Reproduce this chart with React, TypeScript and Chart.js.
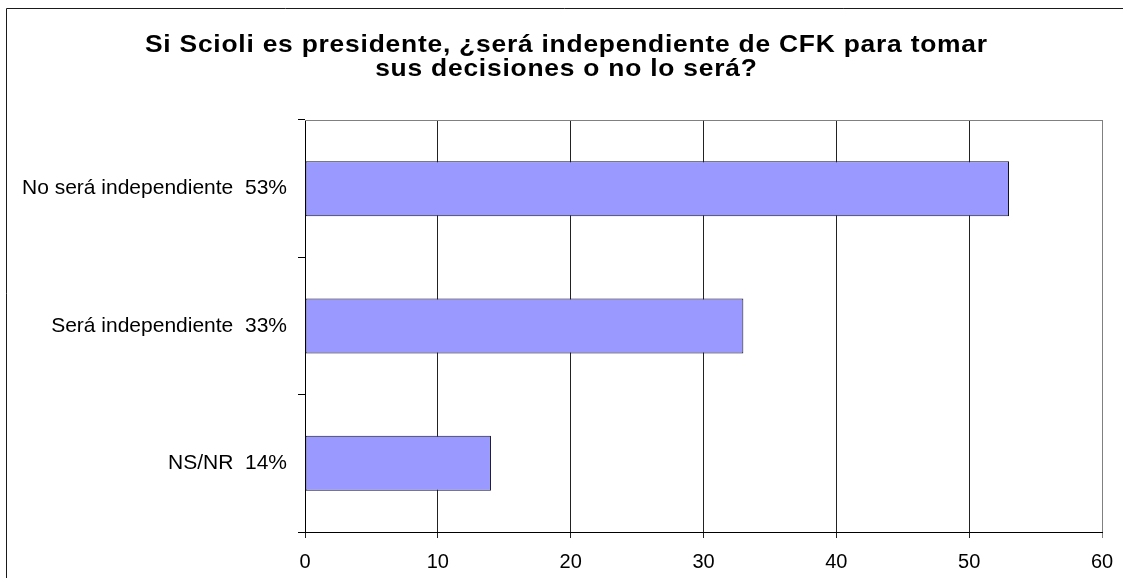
import React, { useEffect, useRef } from "react";
import { Chart, registerables } from "chart.js";

Chart.register(...registerables);

const categories = ["No será independiente  53%", "Será independiente  33%", "NS/NR  14%"];
const values = [53, 33, 14];
const titleLines = [
  "Si Scioli es presidente, ¿será independiente de CFK para tomar",
  "sus decisiones o no lo será?",
];
const xMin = 0;
const xMax = 60;
const xStep = 10;

const FONT = "'Liberation Sans', Arial, sans-serif";

const framePlugin = {
  id: "frameAndTitle",
  beforeDraw(chart: any) {
    const ctx = chart.ctx;
    ctx.save();
    ctx.strokeStyle = "#1a1a1a";
    ctx.lineWidth = 1;
    ctx.beginPath();
    ctx.moveTo(6.5, chart.height);
    ctx.lineTo(6.5, 8.5);
    ctx.lineTo(chart.width, 8.5);
    ctx.stroke();
    ctx.fillStyle = "#000";
    ctx.font = `bold 24px ${FONT}`;
    ctx.textAlign = "center";
    ctx.textBaseline = "alphabetic";
    const sx = 1.1;
    const w0 = ctx.measureText(titleLines[0]).width * sx;
    const spacing = Math.max(0, (843 - w0) / titleLines[0].length / sx);
    ctx.translate(566, 0);
    ctx.scale(sx, 1);
    (ctx as any).letterSpacing = `${spacing.toFixed(2)}px`;
    ctx.fillText(titleLines[0], spacing / 2, 52);
    ctx.fillText(titleLines[1], spacing / 2, 76);
    (ctx as any).letterSpacing = "0px";
    ctx.restore();
  },
  afterDatasetsDraw(chart: any) {
    const { ctx, chartArea } = chart;
    ctx.save();
    ctx.strokeStyle = "#808080";
    ctx.lineWidth = 1;
    ctx.beginPath();
    ctx.moveTo(chartArea.left, chartArea.top + 0.5);
    ctx.lineTo(chartArea.right + 0.5, chartArea.top + 0.5);
    ctx.lineTo(chartArea.right + 0.5, chartArea.bottom);
    ctx.stroke();
    ctx.restore();
  },
};

export default function App() {
  const ref = useRef<HTMLCanvasElement>(null);
  useEffect(() => {
    if (!ref.current) return;
    const chart = new Chart(ref.current, {
      type: "bar",
      data: {
        labels: categories,
        datasets: [
          {
            data: values,
            backgroundColor: "#9999FF",
            borderColor: "#111122",
            borderWidth: 1,
            borderSkipped: false,
            categoryPercentage: 1,
            barPercentage: 0.4,
          },
        ],
      },
      options: {
        indexAxis: "y",
        animation: false,
        responsive: false,
        layout: { padding: { top: 120, right: 21, left: 0, bottom: 0 } },
        plugins: { legend: { display: false }, title: { display: false }, tooltip: { enabled: false } },
        scales: {
          x: {
            min: xMin,
            max: xMax,
            ticks: {
              stepSize: xStep,
              color: "#000",
              font: { family: FONT, size: 20 },
              padding: 12,
              maxRotation: 0,
            },
            grid: {
              color: (c: any) => (c.tick && c.tick.value === xMax ? "#808080" : "#222"),
              lineWidth: 1,
              tickLength: 6,
              drawOnChartArea: true,
            },
            border: { color: "#000", width: 1 },
            afterFit(scale: any) {
              scale.height = 46;
              scale.paddingRight = 11;
              scale.paddingLeft = 6;
            },
          },
          y: {
            offset: true,
            ticks: {
              color: "#000",
              font: { family: FONT, size: 21 },
              padding: 11,
            },
            grid: {
              offset: true,
              drawOnChartArea: false,
              color: "#000",
              tickLength: 7,
            },
            border: { color: "#000", width: 1 },
            afterFit(scale: any) {
              scale.width = 305;
            },
          },
        },
      },
      plugins: [framePlugin],
    } as any);
    return () => chart.destroy();
  }, []);
  return (
    <div style={{ position: "absolute", left: 0, top: 0, width: 1123, height: 578 }}>
      <canvas ref={ref} width={1123} height={578} />
    </div>
  );
}
